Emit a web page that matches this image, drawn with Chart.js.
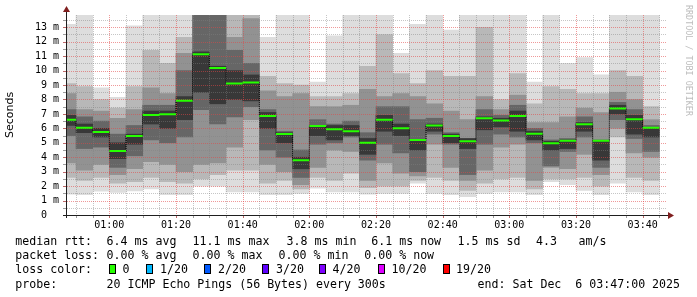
<!DOCTYPE html>
<html>
<head>
<meta charset="utf-8">
<script src="https://cdn.jsdelivr.net/npm/chart.js@4.4.0/dist/chart.umd.min.js"></script>
<style>
  html, body { margin: 0; padding: 0; background: #fff; }
  #wrap { position: relative; width: 697px; height: 297px; overflow: hidden; }
  #myChart { position: absolute; left: 0; top: 0; }
  .t { position: absolute; font-family: "DejaVu Sans Mono", monospace; font-size: 11.6px; line-height: 14px; color: #000; white-space: pre; }
  .sw { position: absolute; width: 7px; height: 10px; border: 1px solid #000; box-sizing: border-box; }
  #credit { position: absolute; left: 684px; top: 5px; writing-mode: vertical-rl; font-family: "DejaVu Sans Mono", monospace; font-size: 8.4px; line-height: 9px; color: #bdbdbd; white-space: pre; }
</style>
</head>
<body>
<div id="wrap">
  <canvas id="myChart" width="697" height="297"></canvas>
  <div id="legend"></div>
  <div id="credit">RRDTOOL / TOBI OETIKER</div>
</div>
<script>
// 5 minute slots (start time of each step)
const slots = ["00:45","00:50","00:55","01:00","01:05","01:10","01:15","01:20","01:25","01:30","01:35","01:40",
  "01:45","01:50","01:55","02:00","02:05","02:10","02:15","02:20","02:25","02:30","02:35","02:40",
  "02:45","02:50","02:55","03:00","03:05","03:10","03:15","03:20","03:25","03:30","03:35","03:40"];

// median rtt (ms)
const median = [6.6, 6.05, 5.75, 4.43, 5.47, 6.93, 6.97, 7.92, 11.13, 10.18, 9.1, 9.17,
  6.86, 5.61, 3.79, 6.17, 5.94, 5.8, 5.01, 6.6, 6.0, 5.2, 6.19, 5.47,
  5.1, 6.7, 6.54, 6.86, 5.63, 4.97, 5.15, 6.28, 5.15, 7.37, 6.63, 6.05];

// smoke bands (ms), outer band 1 -> inner band 5
const lo1 = [1.45, 1.4, 1.65, 1.57, 1.66, 1.8, 1.4, 1.4, 2.0, 2.0, 1.6, 1.6, 1.4, 1.4, 1.5, 1.85, 1.6, 1.6,
  1.45, 1.5, 1.5, 2.2, 1.5, 1.4, 1.27, 1.5, 1.6, 1.6, 1.4, 2.3, 2.1, 1.7, 1.4, 2.2, 1.6, 1.4];
const hi1 = [13.2, 15, 8.8, 8.15, 13.1, 15, 15, 15, 16, 16, 15, 15, 12.3, 15, 15, 9.2, 12.4, 15,
  15, 15, 11.2, 13.2, 15, 12.8, 15, 15, 15, 15, 9.2, 15, 10.5, 10.9, 9.7, 15, 15, 15];
const lo2 = [2.6, 2.4, 2.6, 2.2, 2.3, 2.6, 2.3, 2.2, 2.5, 2.8, 3.1, 3.1, 2.2, 2.4, 1.8, 2.6, 2.4, 2.9,
  1.9, 2.0, 2.0, 2.4, 2.6, 2.4, 1.7, 2.2, 2.5, 2.6, 1.8, 2.5, 2.5, 2.6, 2.0, 5.4, 2.6, 2.4];
const hi2 = [9.1, 8.9, 8.0, 7.4, 8.9, 11.4, 10.5, 12.3, 15.5, 15.5, 14.2, 14.3, 9.6, 9.1, 9.0, 8.2, 8.2, 8.4,
  10.3, 12.5, 9.8, 9.1, 10.0, 9.6, 9.6, 13.0, 8.0, 9.8, 7.7, 8.9, 8.7, 8.4, 8.4, 10.0, 9.6, 7.5];
const lo3 = [3.6, 3.1, 3.5, 2.8, 3.2, 3.7, 3.5, 3.0, 3.5, 3.6, 4.7, 6.6, 3.5, 3.0, 2.1, 3.3, 4.5, 4.4,
  2.4, 3.6, 2.9, 2.7, 4.9, 3.3, 2.4, 3.1, 4.7, 4.9, 2.4, 3.3, 3.2, 4.2, 2.8, 6.0, 4.3, 4.0];
const hi3 = [8.4, 7.3, 7.2, 6.7, 7.3, 8.8, 8.4, 11.2, 15, 15, 12.3, 13.6, 8.6, 8.2, 8.4, 7.5, 7.5, 7.6,
  8.7, 8.2, 8.4, 8.2, 7.7, 7.2, 6.6, 8.2, 7.3, 8.3, 6.4, 6.4, 6.8, 7.4, 7.1, 8.5, 8.0, 6.6];
const lo4 = [5.5, 4.6, 4.7, 3.3, 4.1, 5.2, 5.0, 5.4, 7.3, 6.3, 6.8, 7.5, 4.5, 4.0, 2.6, 4.9, 5.0, 5.4,
  3.8, 4.9, 4.3, 3.0, 5.6, 4.9, 2.8, 4.9, 5.6, 5.4, 5.0, 3.4, 4.4, 5.4, 3.3, 6.6, 5.3, 4.4];
const hi4 = [7.3, 6.8, 6.5, 5.6, 6.2, 7.6, 7.6, 10.0, 14.5, 14.3, 11.4, 10.5, 7.3, 5.8, 4.5, 6.6, 6.3, 6.5,
  5.7, 7.5, 7.5, 6.6, 6.7, 5.7, 5.2, 7.3, 6.9, 7.6, 6.0, 5.2, 5.3, 6.8, 5.2, 7.8, 7.3, 6.2];
const lo5 = [6.2, 5.7, 5.4, 3.9, 4.9, 6.3, 6.0, 6.6, 8.5, 7.7, 8.0, 7.9, 6.0, 5.0, 3.2, 5.5, 5.2, 5.5,
  4.2, 5.8, 5.5, 4.5, 5.8, 5.0, 4.6, 5.9, 6.1, 5.8, 5.2, 4.5, 4.6, 5.8, 3.8, 7.0, 5.6, 5.4];
const hi5 = [6.9, 6.3, 6.0, 5.0, 5.6, 7.2, 7.2, 8.2, 11.3, 10.3, 10.0, 9.7, 7.1, 5.7, 4.0, 6.2, 6.2, 6.2,
  5.3, 6.9, 6.3, 5.2, 6.3, 5.6, 5.3, 6.8, 6.7, 7.2, 5.8, 5.1, 5.2, 6.4, 5.15, 7.6, 6.9, 6.0];

const smokeColors = ["#dddddd", "#b8b8b8", "#929292", "#666666", "#383838"];

// axis labels
const timeTicks = ["01:00", "01:20", "01:40", "02:00", "02:20", "02:40", "03:00", "03:20", "03:40"];
const yTicks = [0, 1, 2, 3, 4, 5, 6, 7, 8, 9, 10, 11, 12, 13];
const startTime = "00:47";
const endTime = "03:47";
const yMax = 13.85;

// legend
const lossLabels = ["0", "1/20", "2/20", "3/20", "4/20", "10/20", "19/20"];
const lossColors = ["#26ff00", "#00b8ff", "#0059ff", "#5e00ff", "#7e00ff", "#dd00ff", "#ff0000"];

function toMin(s) {
  const p = s.split(":");
  return parseInt(p[0]) * 60 + parseInt(p[1]);
}

const step = 5;
const bands = [[lo1, hi1], [lo2, hi2], [lo3, hi3], [lo4, hi4], [lo5, hi5]];

const datasets = [];
// green median segments
const greenData = [];
slots.forEach((s, i) => {
  const x0 = toMin(s);
  greenData.push({x: x0, y: median[i]}, {x: x0 + step, y: median[i]}, {x: x0 + step, y: null});
});
datasets.push({
  type: "line", data: greenData, borderColor: lossColors[0], borderWidth: 2,
  pointRadius: 0, spanGaps: false, borderCapStyle: "butt", order: 0
});
// dotted step connector (horizontal first, then vertical at the slot edge)
const stepData = slots.map((s, i) => ({x: toMin(s), y: median[i]}));
stepData.push({x: toMin(slots[slots.length - 1]) + step, y: median[median.length - 1]});
datasets.push({
  type: "line", data: stepData, stepped: "before", borderColor: "#000", borderWidth: 1,
  borderDash: [1, 1], pointRadius: 0, order: 1
});
// smoke, innermost first so it ends on top
for (let b = 4; b >= 0; b--) {
  datasets.push({
    type: "bar",
    data: slots.map((s, i) => ({x: toMin(s) + step / 2, y: [bands[b][0][i], bands[b][1][i]]})),
    backgroundColor: smokeColors[b],
    borderWidth: 0,
    grouped: false,
    barPercentage: 1,
    categoryPercentage: 1,
    order: 6 - b
  });
}
const smokeTopIndex = 2; // band 5 dataset

const monoAxis = {family: "DejaVu Sans Mono", size: 10};

const gridOnTop = {
  id: "gridOnTop",
  afterDatasetDraw(chart, args) {
    if (args.index !== smokeTopIndex) return;
    const ctx = chart.ctx, xs = chart.scales.x, ys = chart.scales.y, a = chart.chartArea;
    const majors = timeTicks.map(toMin);
    ctx.save();
    ctx.lineWidth = 1;
    // horizontal
    for (let v = 0.5; v < yMax; v += 0.5) {
      const y = Math.round(ys.getPixelForValue(v)) + 0.5;
      const major = Math.abs(v - Math.round(v)) < 1e-6;
      ctx.setLineDash([1, 1]);
      ctx.strokeStyle = major ? "rgba(225,70,70,0.55)" : "rgba(128,128,128,0.45)";
      ctx.beginPath(); ctx.moveTo(a.left + 1, y); ctx.lineTo(a.right, y); ctx.stroke();
      ctx.setLineDash([]);
      ctx.strokeStyle = major ? "rgba(160,40,40,0.7)" : "rgba(90,90,90,0.6)";
      ctx.beginPath(); ctx.moveTo(a.left - 3, y); ctx.lineTo(a.left, y); ctx.stroke();
    }
    // vertical
    for (let m = toMin(startTime) + 3; m <= toMin(endTime); m += step) {
      const x = Math.round(xs.getPixelForValue(m)) + 0.5;
      const major = majors.indexOf(m) >= 0;
      ctx.setLineDash([1, 1]);
      ctx.strokeStyle = major ? "rgba(225,70,70,0.55)" : "rgba(128,128,128,0.45)";
      ctx.beginPath(); ctx.moveTo(x, a.top); ctx.lineTo(x, a.bottom); ctx.stroke();
      ctx.setLineDash([]);
      ctx.strokeStyle = major ? "rgba(160,40,40,0.7)" : "rgba(90,90,90,0.6)";
      ctx.beginPath(); ctx.moveTo(x, a.bottom); ctx.lineTo(x, a.bottom + 3); ctx.stroke();
    }
    ctx.restore();
  },
  afterDraw(chart) {
    const ctx = chart.ctx, a = chart.chartArea;
    const x0 = Math.round(a.left) + 0.5, y0 = Math.round(a.bottom) + 0.5;
    ctx.save();
    ctx.strokeStyle = "#1f1f1f";
    ctx.lineWidth = 1;
    ctx.beginPath();
    ctx.moveTo(a.left - 3, y0); ctx.lineTo(a.right + 3, y0);
    ctx.moveTo(x0, a.bottom + 3); ctx.lineTo(x0, a.top - 3);
    ctx.stroke();
    ctx.fillStyle = "#801f1f";
    ctx.beginPath();
    ctx.moveTo(a.right + 2, y0 - 3.5); ctx.lineTo(a.right + 8, y0); ctx.lineTo(a.right + 2, y0 + 3.5);
    ctx.closePath(); ctx.fill();
    ctx.beginPath();
    ctx.moveTo(x0 - 3.5, a.top - 3); ctx.lineTo(x0, a.top - 9); ctx.lineTo(x0 + 3.5, a.top - 3);
    ctx.closePath(); ctx.fill();
    ctx.restore();
  }
};

const myChart = document.getElementById("myChart");
const chart = new Chart(myChart, {
  data: {datasets},
  options: {
    responsive: false,
    animation: false,
    devicePixelRatio: 1,
    layout: {padding: {left: 0, top: 15, right: 31, bottom: 0}},
    plugins: {legend: {display: false}, tooltip: {enabled: false}},
    scales: {
      x: {
        type: "linear",
        offset: false,
        min: toMin(startTime),
        max: toMin(endTime),
        grid: {display: false, drawTicks: false, offset: false},
        border: {display: false},
        afterBuildTicks: (scale) => { scale.ticks = timeTicks.map(t => ({value: toMin(t)})); },
        afterFit: (scale) => { scale.height = 82; },
        ticks: {
          autoSkip: false, maxRotation: 0, padding: 4, color: "#000", font: monoAxis,
          callback: (v) => timeTicks.find(t => toMin(t) === v)
        }
      },
      y: {
        min: 0,
        max: yMax,
        grid: {display: false, drawTicks: false},
        border: {display: false},
        afterBuildTicks: (scale) => { scale.ticks = yTicks.map(v => ({value: v})); },
        afterFit: (scale) => { scale.width = 66; },
        ticks: {
          padding: 7, color: "#000", font: monoAxis,
          callback: (v) => v === 0 ? "0  " : v + " m"
        },
        title: {
          display: true, text: "Seconds", color: "#000",
          font: {family: "DejaVu Sans", size: 11}, padding: {top: 4, bottom: 0}
        }
      }
    }
  },
  plugins: [gridOnTop]
});

// text legend below the graph
const legend = document.getElementById("legend");
function addText(txt, x, y) {
  const d = document.createElement("div");
  d.className = "t";
  d.style.left = x + "px";
  d.style.top = y + "px";
  d.textContent = txt;
  legend.appendChild(d);
}
const rowTop = [234.3, 248.3, 262.3, 276.5];
addText("median rtt:", 15.3, rowTop[0]);
addText("6.4 ms avg", 106.6, rowTop[0]);
addText("11.1 ms max", 192.6, rowTop[0]);
addText("3.8 ms min", 286.6, rowTop[0]);
addText("6.1 ms now", 371.3, rowTop[0]);
addText("1.5 ms sd", 457.6, rowTop[0]);
addText("4.3", 536, rowTop[0]);
addText("am/s", 578.6, rowTop[0]);
addText("packet loss:", 15.3, rowTop[1]);
addText("0.00 % avg", 106.6, rowTop[1]);
addText("0.00 % max", 192.6, rowTop[1]);
addText("0.00 % min", 278.6, rowTop[1]);
addText("0.00 % now", 364.3, rowTop[1]);
addText("loss color:", 15.3, rowTop[2]);
const swX = [108.7, 145.7, 203.7, 261.7, 319.3, 377.7, 442.7];
const lblX = [122.6, 160, 218, 276, 332.6, 391.6, 456];
lossLabels.forEach((l, i) => {
  const s = document.createElement("div");
  s.className = "sw";
  s.style.left = swX[i] + "px";
  s.style.top = "264px";
  s.style.background = lossColors[i];
  legend.appendChild(s);
  addText(l, lblX[i], rowTop[2]);
});
addText("probe:", 15.3, rowTop[3]);
addText("20 ICMP Echo Pings (56 Bytes) every 300s", 106.6, rowTop[3]);
addText("end: Sat Dec  6 03:47:00 2025", 477.6, rowTop[3]);
</script>
</body>
</html>
